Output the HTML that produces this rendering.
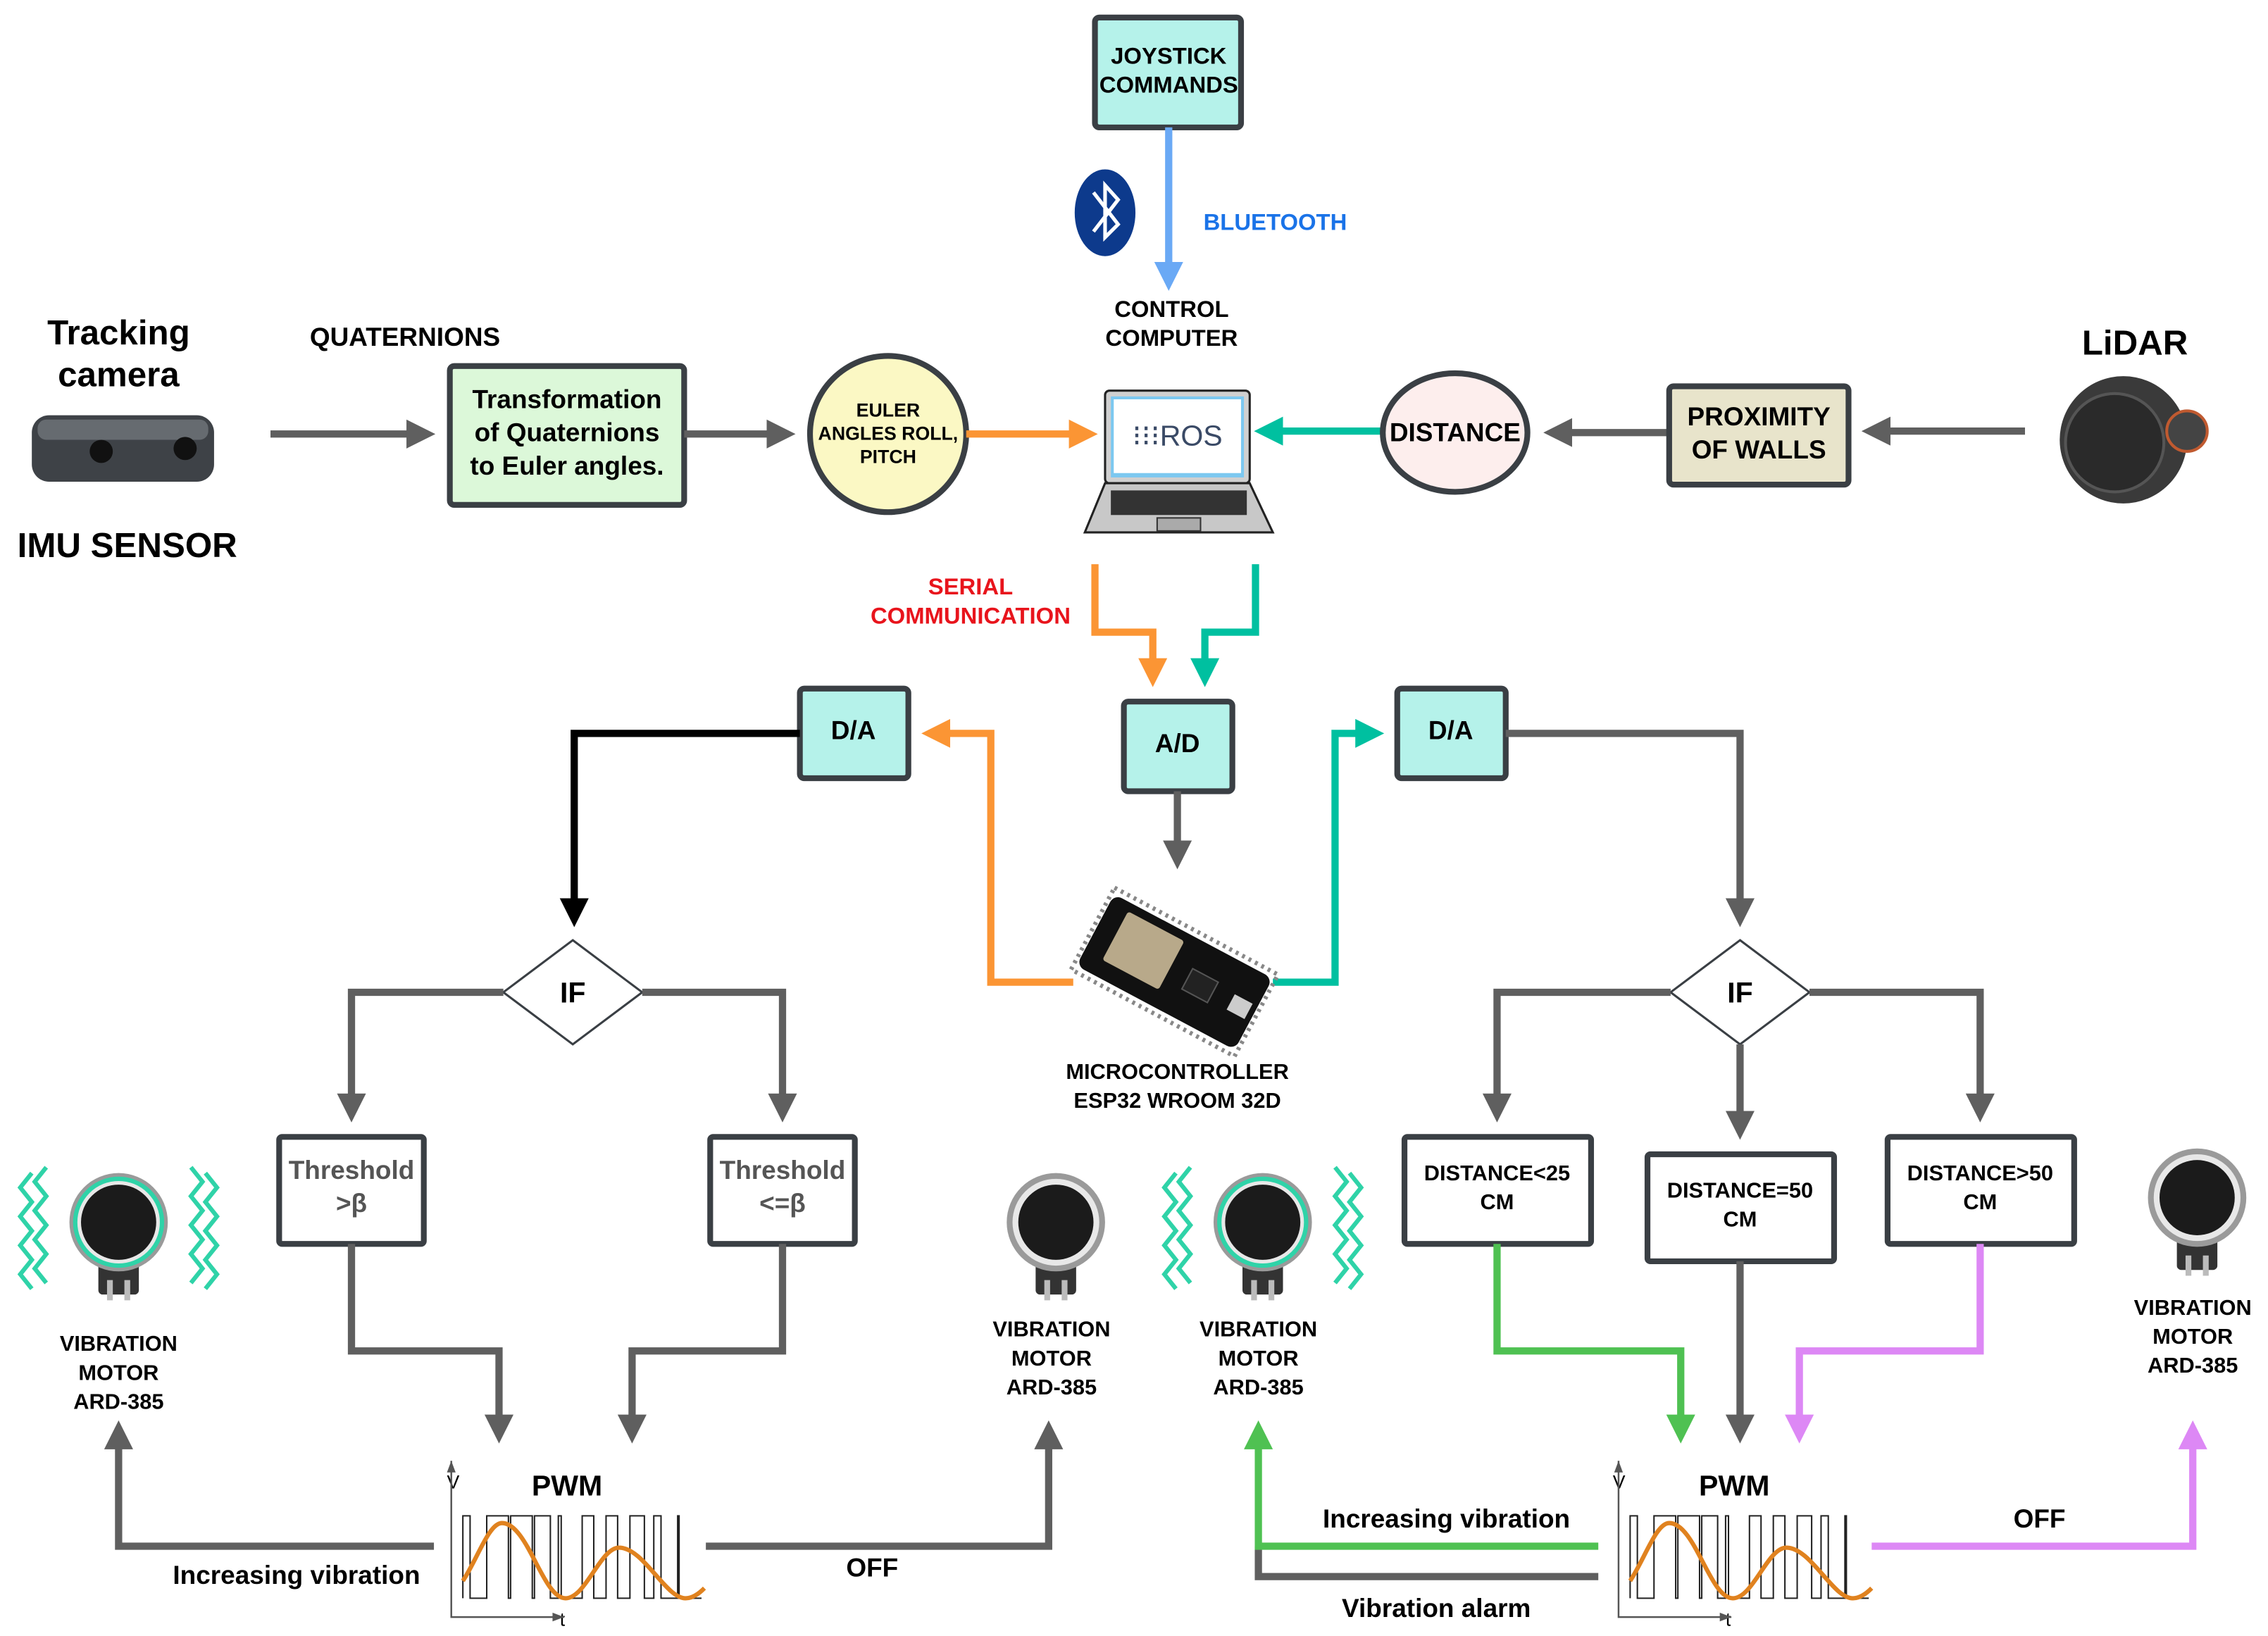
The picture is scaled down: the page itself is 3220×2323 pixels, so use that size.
<!DOCTYPE html>
<html><head><meta charset="utf-8"><style>
html,body{margin:0;padding:0;background:#fff}
svg{display:block}
text{font-family:"Liberation Sans",Arial,sans-serif;font-weight:bold}
</style></head><body>
<svg width="3220" height="2323" viewBox="0 0 1568 1131" xmlns="http://www.w3.org/2000/svg">
<defs>
<marker id="ag" markerWidth="4" markerHeight="4" refX="3" refY="2" orient="auto" markerUnits="strokeWidth"><path d="M0,0 L4,2 L0,4 z" fill="#5f5f5f"/></marker>
<marker id="ao" markerWidth="4" markerHeight="4" refX="3" refY="2" orient="auto" markerUnits="strokeWidth"><path d="M0,0 L4,2 L0,4 z" fill="#fb9534"/></marker>
<marker id="at" markerWidth="4" markerHeight="4" refX="3" refY="2" orient="auto" markerUnits="strokeWidth"><path d="M0,0 L4,2 L0,4 z" fill="#00c0a0"/></marker>
<marker id="ab" markerWidth="4" markerHeight="4" refX="3" refY="2" orient="auto" markerUnits="strokeWidth"><path d="M0,0 L4,2 L0,4 z" fill="#6aa9f5"/></marker>
<marker id="ak" markerWidth="4" markerHeight="4" refX="3" refY="2" orient="auto" markerUnits="strokeWidth"><path d="M0,0 L4,2 L0,4 z" fill="#000"/></marker>
<marker id="agr" markerWidth="4" markerHeight="4" refX="3" refY="2" orient="auto" markerUnits="strokeWidth"><path d="M0,0 L4,2 L0,4 z" fill="#4fc152"/></marker>
<marker id="av" markerWidth="4" markerHeight="4" refX="3" refY="2" orient="auto" markerUnits="strokeWidth"><path d="M0,0 L4,2 L0,4 z" fill="#dd88f5"/></marker>
<g id="pwm">
 <path d="M-8,-38 V70 H70" fill="none" stroke="#555" stroke-width="1.2"/>
 <path d="M-11,-30 L-8,-38 L-5,-30 z" fill="#555"/><path d="M62,67 L70,70 L62,73 z" fill="#555"/>
 <path d="M0,57 V0 H5 V57 H16.5 V0 H31.5 V57 H33 V0 H48 V57 H49.5 V0 H60.5 V57 H66 V0 H68 V57 H82.5 V0 H90.5 V57 H99 V0 H107 V57 H115.5 V0 H125.5 V57 H132 V0 H137 V57 H148.5 V0 H149.5 V57 H165" fill="none" stroke="#222" stroke-width="1"/>
 <path d="M0,45 C10,30 18,5 27,5 C45,5 55,57 71,57 C85,57 95,22 108,22 C125,22 140,57 154,57 C160,57 165,52 167,50" fill="none" stroke="#e0821f" stroke-width="3"/>
</g>
<g id="motor">
 <rect x="-14" y="28" width="28" height="22" rx="3" fill="#333"/>
 <rect x="-8" y="40" width="4" height="14" fill="#bbb"/><rect x="4" y="40" width="4" height="14" fill="#bbb"/>
 <circle r="34" fill="#9a9a9a"/><circle r="30" fill="#e8e8e8"/><circle r="26" fill="#1b1b1b"/>
</g>
<g id="waves" fill="none" stroke="#2fd3a8" stroke-width="3">
 <polyline points="-50,-38 -58,-28 -50,-18 -58,-8 -50,2 -58,12 -50,22 -58,32 -50,42"/>
 <polyline points="-60,-34 -68,-24 -60,-14 -68,-4 -60,6 -68,16 -60,26 -68,36 -60,46"/>
 <polyline points="50,-38 58,-28 50,-18 58,-8 50,2 58,12 50,22 58,32 50,42"/>
 <polyline points="60,-34 68,-24 60,-14 68,-4 60,6 68,16 60,26 68,36 60,46"/>
</g>
</defs>

<rect x="757" y="12" width="101" height="76" rx="3" fill="#b5f2ea" stroke="#3a3f44" stroke-width="4"/>
<text x="808" y="44" font-size="16" text-anchor="middle">JOYSTICK</text>
<text x="808" y="64" font-size="16" text-anchor="middle">COMMANDS</text>
<line x1="808" y1="88" x2="808" y2="196" stroke="#6aa9f5" stroke-width="5" marker-end="url(#ab)"/>
<ellipse cx="764" cy="147" rx="21" ry="30" fill="#0d3a8c"/>
<path d="M756,133 L773,155 L764,164 V128 L773,138 L756,160" fill="none" stroke="#fff" stroke-width="2.5"/>
<text x="832" y="159" font-size="16" fill="#1a73e8">BLUETOOTH</text>
<text x="810" y="219" font-size="16" text-anchor="middle">CONTROL</text>
<text x="810" y="239" font-size="16" text-anchor="middle">COMPUTER</text>

<text x="82" y="238" font-size="24" text-anchor="middle">Tracking</text>
<text x="82" y="267" font-size="24" text-anchor="middle">camera</text>
<rect x="22" y="287" width="126" height="46" rx="12" fill="#3e4247"/>
<rect x="26" y="290" width="118" height="14" rx="6" fill="#666b70"/>
<circle cx="70" cy="312" r="8" fill="#111"/><circle cx="128" cy="310" r="8" fill="#111"/>
<text x="88" y="385" font-size="24" text-anchor="middle">IMU SENSOR</text>
<text x="280" y="239" font-size="18" text-anchor="middle">QUATERNIONS</text>
<line x1="187" y1="300" x2="296" y2="300" stroke="#5f5f5f" stroke-width="5" marker-end="url(#ag)"/>
<rect x="311" y="253" width="162" height="96" rx="3" fill="#dcf8d9" stroke="#3a3f44" stroke-width="4"/>
<text x="392" y="282" font-size="18" text-anchor="middle">Transformation</text>
<text x="392" y="305" font-size="18" text-anchor="middle">of Quaternions</text>
<text x="392" y="328" font-size="18" text-anchor="middle">to Euler angles.</text>
<line x1="473" y1="300" x2="545" y2="300" stroke="#5f5f5f" stroke-width="5" marker-end="url(#ag)"/>
<circle cx="614" cy="300" r="54" fill="#fbf8c4" stroke="#3a3f44" stroke-width="4"/>
<text x="614" y="288" font-size="13" text-anchor="middle">EULER</text>
<text x="614" y="304" font-size="13" text-anchor="middle">ANGLES ROLL,</text>
<text x="614" y="320" font-size="13" text-anchor="middle">PITCH</text>
<line x1="668" y1="300" x2="754" y2="300" stroke="#fb9534" stroke-width="5" marker-end="url(#ao)"/>

<rect x="764" y="270" width="100" height="64" rx="3" fill="#d0d0d0" stroke="#222" stroke-width="1.5"/>
<rect x="768" y="274" width="92" height="56" fill="#7cc8f0"/>
<rect x="770" y="276" width="88" height="51" fill="#fff"/>
<text x="814" y="308" font-size="20" fill="#3a4a66" text-anchor="middle" style="font-weight:normal">⁝⁝⁝ROS</text>
<path d="M764,334 H864 L880,368 H750 z" fill="#c8c8c8" stroke="#222" stroke-width="1.5"/>
<rect x="768" y="339" width="94" height="17" fill="#333"/>
<rect x="800" y="358" width="30" height="9" fill="#aaa" stroke="#333" stroke-width="1"/>

<line x1="955" y1="298" x2="872" y2="298" stroke="#00c0a0" stroke-width="5" marker-end="url(#at)"/>
<ellipse cx="1006" cy="299" rx="50" ry="41" fill="#fdeeed" stroke="#3a3f44" stroke-width="4"/>
<text x="1006" y="305" font-size="18" text-anchor="middle">DISTANCE</text>
<line x1="1153" y1="299" x2="1072" y2="299" stroke="#5f5f5f" stroke-width="5" marker-end="url(#ag)"/>
<rect x="1154" y="267" width="124" height="68" rx="3" fill="#e8e4cb" stroke="#3a3f44" stroke-width="4"/>
<text x="1216" y="294" font-size="18" text-anchor="middle">PROXIMITY</text>
<text x="1216" y="317" font-size="18" text-anchor="middle">OF WALLS</text>
<line x1="1400" y1="298" x2="1292" y2="298" stroke="#5f5f5f" stroke-width="5" marker-end="url(#ag)"/>
<text x="1476" y="245" font-size="24" text-anchor="middle">LiDAR</text>
<circle cx="1468" cy="304" r="44" fill="#3a3a3a"/>
<circle cx="1462" cy="306" r="34" fill="#2a2a2a" stroke="#555" stroke-width="2"/>
<circle cx="1512" cy="298" r="14" fill="#444" stroke="#c05a30" stroke-width="2"/>

<text x="671" y="411" font-size="16" fill="#e8141c" text-anchor="middle">SERIAL</text>
<text x="671" y="431" font-size="16" fill="#e8141c" text-anchor="middle">COMMUNICATION</text>
<path d="M757,390 V437 H797 V470" fill="none" stroke="#fb9534" stroke-width="5" marker-end="url(#ao)"/>
<path d="M868,390 V437 H833 V470" fill="none" stroke="#00c0a0" stroke-width="5" marker-end="url(#at)"/>
<rect x="777" y="485" width="75" height="62" rx="3" fill="#b5f2ea" stroke="#3a3f44" stroke-width="4"/>
<text x="814" y="520" font-size="18" text-anchor="middle">A/D</text>
<line x1="814" y1="547" x2="814" y2="596" stroke="#5f5f5f" stroke-width="5" marker-end="url(#ag)"/>

<rect x="553" y="476" width="75" height="62" rx="3" fill="#b5f2ea" stroke="#3a3f44" stroke-width="4"/>
<text x="590" y="511" font-size="18" text-anchor="middle">D/A</text>
<rect x="966" y="476" width="75" height="62" rx="3" fill="#b5f2ea" stroke="#3a3f44" stroke-width="4"/>
<text x="1003" y="511" font-size="18" text-anchor="middle">D/A</text>
<path d="M742,679 H685 V507 H642" fill="none" stroke="#fb9534" stroke-width="5" marker-end="url(#ao)"/>
<path d="M880,679 H923 V507 H952" fill="none" stroke="#00c0a0" stroke-width="5" marker-end="url(#at)"/>

<g transform="translate(812,672) rotate(28)">
 <rect x="-64" y="-32" width="128" height="64" fill="none" stroke="#888" stroke-width="3" stroke-dasharray="2 3"/>
 <rect x="-62" y="-28" width="124" height="56" rx="6" fill="#111"/>
 <rect x="-48" y="-22" width="44" height="38" rx="2" fill="#b8a98a"/>
 <rect x="10" y="-8" width="20" height="16" fill="#222" stroke="#555"/>
 <rect x="44" y="-6" width="14" height="12" fill="#ccc"/>
</g>
<text x="814" y="746" font-size="15" text-anchor="middle">MICROCONTROLLER</text>
<text x="814" y="766" font-size="15" text-anchor="middle">ESP32 WROOM 32D</text>

<path d="M553,507 H397 V636" fill="none" stroke="#000" stroke-width="5" marker-end="url(#ak)"/>
<polygon points="396,650 444,686 396,722 348,686" fill="#fff" stroke="#3a3f44" stroke-width="1.5"/>
<text x="396" y="693" font-size="20" text-anchor="middle">IF</text>
<path d="M348,686 H243 V771" fill="none" stroke="#5f5f5f" stroke-width="5" marker-end="url(#ag)"/>
<path d="M444,686 H541 V771" fill="none" stroke="#5f5f5f" stroke-width="5" marker-end="url(#ag)"/>
<rect x="193" y="786" width="100" height="74" rx="2" fill="#fff" stroke="#3a3f44" stroke-width="4"/>
<text x="243" y="815" font-size="18" fill="#555" text-anchor="middle">Threshold</text>
<text x="243" y="838" font-size="18" fill="#555" text-anchor="middle">&gt;β</text>
<rect x="491" y="786" width="100" height="74" rx="2" fill="#fff" stroke="#3a3f44" stroke-width="4"/>
<text x="541" y="815" font-size="18" fill="#555" text-anchor="middle">Threshold</text>
<text x="541" y="838" font-size="18" fill="#555" text-anchor="middle">&lt;=β</text>
<path d="M243,860 V934 H345 V993" fill="none" stroke="#5f5f5f" stroke-width="5" marker-end="url(#ag)"/>
<path d="M541,860 V934 H437 V993" fill="none" stroke="#5f5f5f" stroke-width="5" marker-end="url(#ag)"/>
<text x="392" y="1034" font-size="20" text-anchor="middle">PWM</text>
<text x="309" y="1029" font-size="13" style="font-weight:normal">V</text>
<text x="387" y="1124" font-size="13" style="font-weight:normal">t</text>
<use href="#pwm" transform="translate(320,1048)"/>
<path d="M300,1069 H82 V987" fill="none" stroke="#5f5f5f" stroke-width="5" marker-end="url(#ag)"/>
<path d="M488,1069 H725 V987" fill="none" stroke="#5f5f5f" stroke-width="5" marker-end="url(#ag)"/>
<text x="205" y="1095" font-size="18" text-anchor="middle">Increasing vibration</text>
<text x="603" y="1090" font-size="18" text-anchor="middle">OFF</text>

<use href="#waves" transform="translate(82,845)"/>
<use href="#motor" transform="translate(82,845)"/>
<circle cx="82" cy="845" r="30" fill="none" stroke="#2fd3a8" stroke-width="3"/>
<text x="82" y="934" font-size="15" text-anchor="middle">VIBRATION</text>
<text x="82" y="954" font-size="15" text-anchor="middle">MOTOR</text>
<text x="82" y="974" font-size="15" text-anchor="middle">ARD-385</text>
<use href="#motor" transform="translate(730,845)"/>
<text x="727" y="924" font-size="15" text-anchor="middle">VIBRATION</text>
<text x="727" y="944" font-size="15" text-anchor="middle">MOTOR</text>
<text x="727" y="964" font-size="15" text-anchor="middle">ARD-385</text>
<use href="#waves" transform="translate(873,845)"/>
<use href="#motor" transform="translate(873,845)"/>
<circle cx="873" cy="845" r="30" fill="none" stroke="#2fd3a8" stroke-width="3"/>
<text x="870" y="924" font-size="15" text-anchor="middle">VIBRATION</text>
<text x="870" y="944" font-size="15" text-anchor="middle">MOTOR</text>
<text x="870" y="964" font-size="15" text-anchor="middle">ARD-385</text>
<use href="#motor" transform="translate(1519,828)"/>
<text x="1516" y="909" font-size="15" text-anchor="middle">VIBRATION</text>
<text x="1516" y="929" font-size="15" text-anchor="middle">MOTOR</text>
<text x="1516" y="949" font-size="15" text-anchor="middle">ARD-385</text>

<path d="M1041,507 H1203 V636" fill="none" stroke="#5f5f5f" stroke-width="5" marker-end="url(#ag)"/>
<polygon points="1203,650 1251,686 1203,722 1155,686" fill="#fff" stroke="#3a3f44" stroke-width="1.5"/>
<text x="1203" y="693" font-size="20" text-anchor="middle">IF</text>
<path d="M1155,686 H1035 V771" fill="none" stroke="#5f5f5f" stroke-width="5" marker-end="url(#ag)"/>
<path d="M1203,722 V783" fill="none" stroke="#5f5f5f" stroke-width="5" marker-end="url(#ag)"/>
<path d="M1251,686 H1369 V771" fill="none" stroke="#5f5f5f" stroke-width="5" marker-end="url(#ag)"/>
<rect x="971" y="786" width="129" height="74" rx="2" fill="#fff" stroke="#3a3f44" stroke-width="4"/>
<text x="1035" y="816" font-size="15" text-anchor="middle">DISTANCE&lt;25</text>
<text x="1035" y="836" font-size="15" text-anchor="middle">CM</text>
<rect x="1139" y="798" width="129" height="74" rx="2" fill="#fff" stroke="#3a3f44" stroke-width="4"/>
<text x="1203" y="828" font-size="15" text-anchor="middle">DISTANCE=50</text>
<text x="1203" y="848" font-size="15" text-anchor="middle">CM</text>
<rect x="1305" y="786" width="129" height="74" rx="2" fill="#fff" stroke="#3a3f44" stroke-width="4"/>
<text x="1369" y="816" font-size="15" text-anchor="middle">DISTANCE&gt;50</text>
<text x="1369" y="836" font-size="15" text-anchor="middle">CM</text>
<path d="M1035,860 V934 H1162 V993" fill="none" stroke="#4fc152" stroke-width="5" marker-end="url(#agr)"/>
<path d="M1203,872 V993" fill="none" stroke="#5f5f5f" stroke-width="5" marker-end="url(#ag)"/>
<path d="M1369,860 V934 H1244 V993" fill="none" stroke="#dd88f5" stroke-width="5" marker-end="url(#av)"/>
<text x="1199" y="1034" font-size="20" text-anchor="middle">PWM</text>
<text x="1115" y="1029" font-size="13" style="font-weight:normal">V</text>
<text x="1193" y="1124" font-size="13" style="font-weight:normal">t</text>
<use href="#pwm" transform="translate(1127,1048)"/>
<path d="M1105,1090 H870 V1069" fill="none" stroke="#5f5f5f" stroke-width="5"/>
<path d="M1105,1069 H870 V987" fill="none" stroke="#4fc152" stroke-width="5" marker-end="url(#agr)"/>
<path d="M1294,1069 H1516 V987" fill="none" stroke="#dd88f5" stroke-width="5" marker-end="url(#av)"/>
<text x="1000" y="1056" font-size="18" text-anchor="middle">Increasing vibration</text>
<text x="993" y="1118" font-size="18" text-anchor="middle">Vibration alarm</text>
<text x="1410" y="1056" font-size="18" text-anchor="middle">OFF</text>
</svg>
</body></html>
